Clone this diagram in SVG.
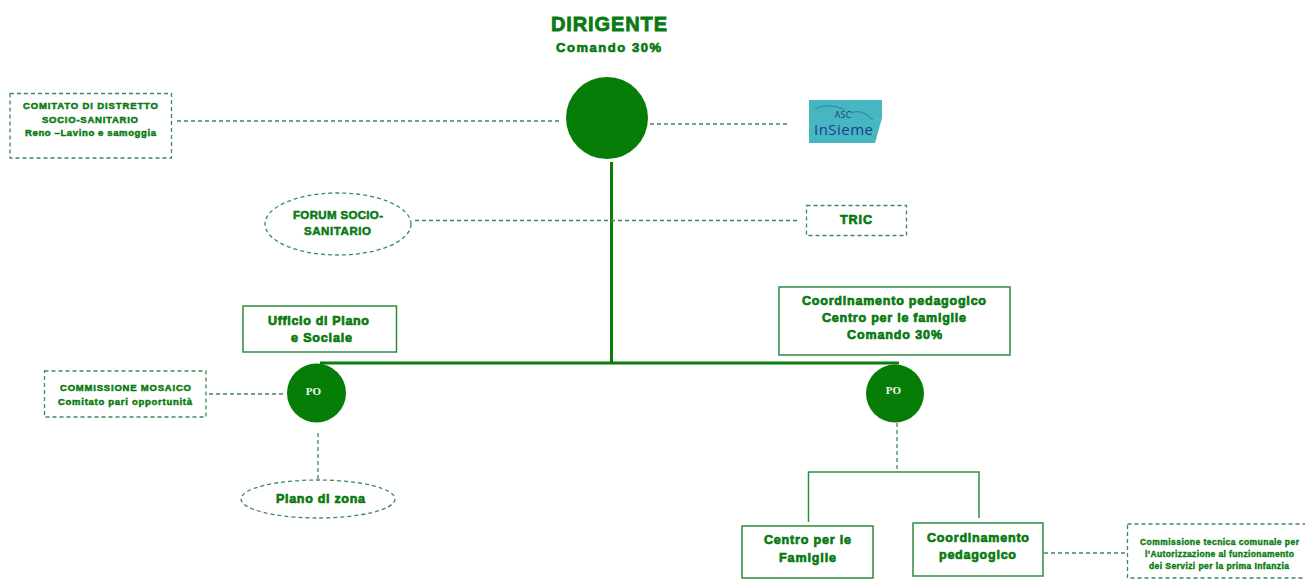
<svg xmlns="http://www.w3.org/2000/svg" width="1305" height="579" viewBox="0 0 1305 579">
<style>
text{font-family:"Liberation Sans",Arial,sans-serif;font-weight:700;fill:#0a7a12;stroke:#0a7a12;stroke-width:.6;text-anchor:middle}
.s8{font-size:8.500px;stroke-width:.4}.s9{font-size:9.500px;stroke-width:.5}.s11{font-size:11.500px;stroke-width:.55}.s12{font-size:12.500px;stroke-width:.7}.s13{font-size:13px;stroke-width:.7}
.po{font-family:"Liberation Serif",serif;font-size:11px;fill:#f2f7f0;stroke:none}
.d{fill:#fff;stroke:#3f8a52;stroke-width:1.3;stroke-dasharray:4 3}
.dl{fill:none;stroke:#3f8a52;stroke-width:1.3;stroke-dasharray:4 3}
.b{fill:#fff;stroke:#2f8a3c;stroke-width:1.5}
.t{fill:none;stroke:#2f8a3c;stroke-width:1.5}
.m{fill:none;stroke:#0b7d0b;stroke-width:3}
.c{fill:#067d06}
.lg{font-family:"Open Sans",sans-serif;font-weight:400;fill:#1e3f8c;stroke:none}
</style>
<rect width="1305" height="579" fill="#fff"/>
<g id="connectors">
<path class="dl" d="M177 121H561"/>
<path class="dl" d="M650 124H790"/>
<path class="m" d="M611.500 162V363"/>
<path class="dl" d="M415 220.500H798"/>
<path class="m" d="M320 363H899"/>
<path class="dl" d="M209 394H286"/>
<path class="dl" d="M318 433V480"/>
<path class="dl" d="M897 423V472"/>
<path class="t" d="M808.500 522V472H979V518"/>
<path class="dl" d="M1044 553H1127"/>
</g>
<g id="dirigente-title">
<text x="609" y="31" textLength="116" style="font-size:20px;stroke-width:.8">DIRIGENTE</text>
<text class="s13" x="608.500" y="52" textLength="105">Comando 30%</text>
</g>
<g id="dirigente"><circle class="c" cx="607" cy="118" r="41"/></g>
<g id="comitato">
<rect class="d" x="10" y="93.500" width="161.500" height="64.500"/>
<text class="s9" x="90.500" y="109" textLength="135">COMITATO DI DISTRETTO</text>
<text class="s9" x="90" y="122.500" textLength="96">SOCIO-SANITARIO</text>
<text class="s9" x="90.500" y="136" textLength="131">Reno –Lavino e samoggia</text>
</g>
<g id="asc-insieme">
<polygon points="809,100 882,100 882,118 875,143 809,143" fill="#46b6c0"/>
<path d="M815 109Q828 102 845 110M850 113Q862 108 873 120" fill="none" stroke="#2d6fa0" stroke-width=".8"/>
<text class="lg" x="843" y="118" textLength="17" style="font-size:9px">ASC</text>
<text class="lg" x="843.500" y="135" textLength="59" style="font-size:15px">InSieme</text>
</g>
<g id="forum">
<ellipse class="d" cx="338" cy="224" rx="73" ry="31"/>
<text class="s11" x="338" y="219" textLength="90">FORUM SOCIO-</text>
<text class="s11" x="337.500" y="235" textLength="67">SANITARIO</text>
</g>
<g id="tric">
<rect class="d" x="806.500" y="205.500" width="100" height="30"/>
<text class="s12" x="856" y="224" textLength="32">TRIC</text>
</g>
<g id="ufficio">
<rect class="b" x="243" y="306" width="153.500" height="46"/>
<text class="s12" x="318.500" y="325" textLength="101">Ufficio di Piano</text>
<text class="s12" x="321.500" y="342" textLength="61">e Sociale</text>
</g>
<g id="coordinamento-centro">
<rect class="b" x="779" y="287" width="231" height="68"/>
<text class="s12" x="894" y="305" textLength="184">Coordinamento pedagogico</text>
<text class="s12" x="894" y="322" textLength="144">Centro per le famiglie</text>
<text class="s12" x="894.500" y="339" textLength="95">Comando 30%</text>
</g>
<g id="po-left">
<circle class="c" cx="316.500" cy="393" r="29.500"/>
<text class="po" x="313.500" y="395">PO</text>
</g>
<g id="po-right">
<ellipse class="c" cx="895" cy="393.500" rx="29" ry="29"/>
<text class="po" x="893.500" y="394">PO</text>
</g>
<g id="mosaico">
<rect class="d" x="44.500" y="371" width="161.500" height="46"/>
<text class="s9" x="125.500" y="391" textLength="131">COMMISSIONE MOSAICO</text>
<text class="s9" x="125" y="405" textLength="134">Comitato pari opportunità</text>
</g>
<g id="piano-zona">
<ellipse class="d" cx="318" cy="499" rx="77" ry="19"/>
<text class="s12" x="320.500" y="503" textLength="89">Piano di zona</text>
</g>
<g id="centro-famiglie">
<rect class="b" x="742" y="526" width="131" height="52"/>
<text class="s12" x="807.500" y="544" textLength="87">Centro per le</text>
<text class="s12" x="807.500" y="562" textLength="57">Famiglie</text>
</g>
<g id="coordinamento">
<rect class="b" x="913" y="523" width="130" height="53"/>
<text class="s12" x="978" y="542" textLength="102">Coordinamento</text>
<text class="s12" x="977.500" y="559" textLength="77">pedagogico</text>
</g>
<g id="commissione-tecnica">
<rect class="d" x="1127.500" y="524" width="190" height="54"/>
<text class="s8" x="1219.500" y="545" textLength="159">Commissione tecnica comunale per</text>
<text class="s8" x="1219.500" y="557" textLength="149">l’Autorizzazione al funzionamento</text>
<text class="s8" x="1219" y="569" textLength="140">dei Servizi per la prima Infanzia</text>
</g>
</svg>
